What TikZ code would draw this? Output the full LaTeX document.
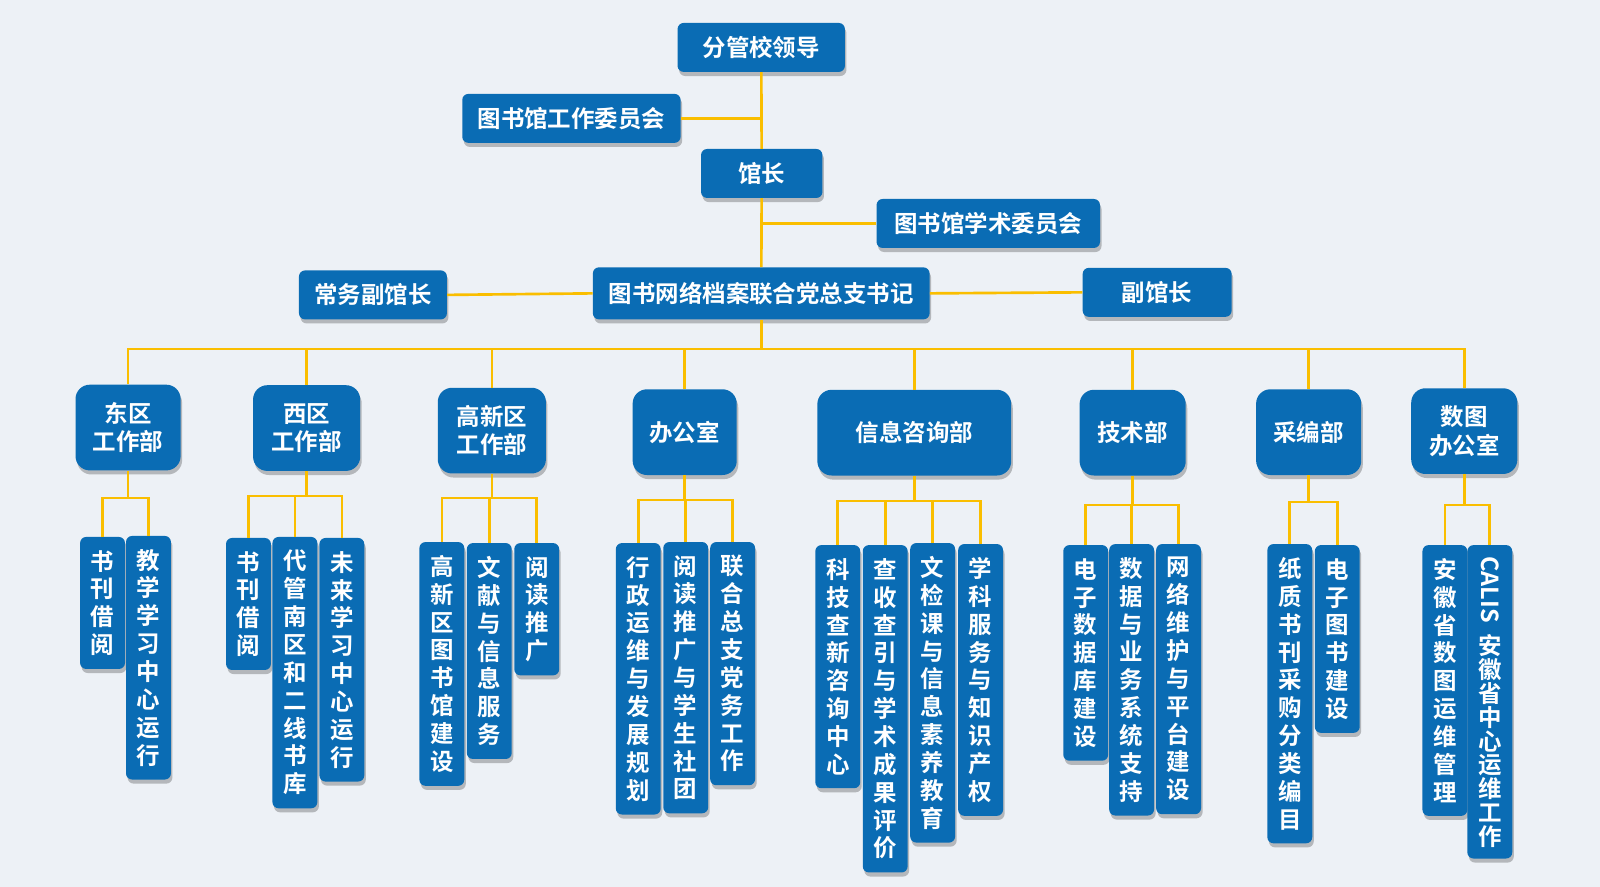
\documentclass[tikz,border=0pt]{standalone}
\usepackage{fontspec}
\setmainfont{Noto Sans CJK SC}[BoldFont={Noto Sans CJK SC Bold}]
\usepackage{xcolor}
\usetikzlibrary{shadows}
\definecolor{boxblue}{RGB}{10,108,180}
\definecolor{linkyellow}{RGB}{250,190,0}
\definecolor{pagebg}{RGB}{237,241,246}

\begin{document}
\begin{tikzpicture}[x=1pt,y=-1pt,
  boxshadow/.style={drop shadow={shadow xshift=1.5pt,shadow yshift=-4pt,fill=black,opacity=0.24}},
  topbox/.style={fill=boxblue,text=white,rounded corners=6pt,minimum height=48pt,inner sep=0pt,
    font=\fontsize{23}{28}\selectfont\bfseries,boxshadow},
  deptbox/.style={fill=boxblue,text=white,rounded corners=14pt,minimum height=84pt,inner sep=0pt,
    align=center,font=\fontsize{23}{28}\selectfont\bfseries,boxshadow},
  subbox/.style={fill=boxblue,text=white,rounded corners=6pt,minimum width=44pt,inner xsep=0pt,
    inner ysep=13pt,anchor=north,align=center,font=\fontsize{23}{27.3}\selectfont\bfseries,boxshadow},
  link/.style={draw=linkyellow,line width=2.6pt}]
  \useasboundingbox (0,0) rectangle (1568,869);
  \fill[pagebg] (0,0) rectangle (1568,869);

  \node[topbox,minimum width=164pt] (lead) at (746,46.5) {分管校领导};
  \node[topbox,minimum width=214pt] (wcom) at (560,116) {图书馆工作委员会};
  \node[topbox,minimum width=119pt] (dean) at (746.5,170) {馆长};
  \node[topbox,minimum width=219pt] (acom) at (968.5,219) {图书馆学术委员会};
  \node[topbox,minimum width=330pt,minimum height=51pt] (secr) at (746,287.5) {图书网络档案联合党总支书记};
  \node[topbox,minimum width=145pt] (vp1) at (365.5,289) {常务副馆长};
  \node[topbox,minimum width=146pt] (vp2) at (1134,286.5) {副馆长};

  \node[deptbox,minimum width=103pt] (d1) at (125.5,419) {东区\\工作部};
  \node[deptbox,minimum width=105pt] (d2) at (300.5,419.5) {西区\\工作部};
  \node[deptbox,minimum width=106pt] (d3) at (482,422) {高新区\\工作部};
  \node[deptbox,minimum width=102pt] (d4) at (671,423.5) {办公室};
  \node[deptbox,minimum width=190pt] (d5) at (896,424) {信息咨询部};
  \node[deptbox,minimum width=104pt] (d6) at (1110,424) {技术部};
  \node[deptbox,minimum width=103pt] (d7) at (1282.5,423.5) {采编部};
  \node[deptbox,minimum width=104pt] (d8) at (1435,422.5) {数图\\办公室};

  \node[subbox] (e11) at (100.5,526) {书\\刊\\借\\阅};
  \node[subbox] (e12) at (145.5,525) {教\\学\\学\\习\\中\\心\\运\\行};
  \node[subbox] (e21) at (243.5,527) {书\\刊\\借\\阅};
  \node[subbox] (e22) at (289,526) {代\\管\\南\\区\\和\\二\\线\\书\\库};
  \node[subbox] (e23) at (335,527) {未\\来\\学\\习\\中\\心\\运\\行};
  \node[subbox] (e31) at (433,531) {高\\新\\区\\图\\书\\馆\\建\\设};
  \node[subbox] (e32) at (479.5,532) {文\\献\\与\\信\\息\\服\\务};
  \node[subbox] (e33) at (526,532) {阅\\读\\推\\广};
  \node[subbox] (e41) at (625.5,532) {行\\政\\运\\维\\与\\发\\展\\规\\划};
  \node[subbox] (e42) at (672,531) {阅\\读\\推\\广\\与\\学\\生\\社\\团};
  \node[subbox] (e43) at (718,531) {联\\合\\总\\支\\党\\务\\工\\作};
  \node[subbox] (e51) at (821,534) {科\\技\\查\\新\\咨\\询\\中\\心};
  \node[subbox] (e52) at (867.5,534) {查\\收\\查\\引\\与\\学\\术\\成\\果\\评\\价};
  \node[subbox] (e53) at (914,532) {文\\检\\课\\与\\信\\息\\素\\养\\教\\育};
  \node[subbox] (e54) at (961,533) {学\\科\\服\\务\\与\\知\\识\\产\\权};
  \node[subbox] (e61) at (1064,534) {电\\子\\数\\据\\库\\建\\设};
  \node[subbox] (e62) at (1109,533) {数\\据\\与\\业\\务\\系\\统\\支\\持};
  \node[subbox] (e63) at (1155,533) {网\\络\\维\\护\\与\\平\\台\\建\\设};
  \node[subbox] (e71) at (1264,533) {纸\\质\\书\\刊\\采\\购\\分\\类\\编\\目};
  \node[subbox] (e72) at (1310.5,534) {电\\子\\图\\书\\建\\设};
  \node[subbox] (e81) at (1416,534) {安\\徽\\省\\数\\图\\运\\维\\管\\理};
  \node[subbox,inner ysep=11pt,font=\fontsize{23}{23.3}\selectfont\bfseries] (e82) at (1460,534)
    {\rotatebox{-90}{CALIS}\\[11pt]安\\徽\\省\\中\\心\\运\\维\\工\\作};

  \coordinate (bus) at (746,342);
  \draw[link] (lead) -- (dean);
  \draw[link] (dean) -- (secr);
  \draw[link] (secr.south) -- (bus);
  \draw[link] (wcom.east) -- (wcom.east -| lead.south);
  \draw[link] (acom.west) -- (acom.west -| dean.south);
  \draw[link] (vp1.east) -- (secr.west);
  \draw[link] (secr.east) -- (vp2.west);
  \draw[link] (d1.north) -- (d1.north |- bus) -- (d8.north |- bus) -- (d8.north);
  \draw[link] (d2.north) -- (d2.north |- bus);
  \draw[link] (d3.north) -- (d3.north |- bus);
  \draw[link] (d4.north) -- (d4.north |- bus);
  \draw[link] (d5.north) -- (d5.north |- bus);
  \draw[link] (d6.north) -- (d6.north |- bus);
  \draw[link] (d7.north) -- (d7.north |- bus);

  \coordinate (b1) at (0,488);
  \draw[link] (d1.south) -- (d1.south |- b1);
  \draw[link] (e11.north) |- (e12.north |- b1) -- (e12.north);
  \coordinate (b2) at (0,486);
  \draw[link] (d2.south) -- (d2.south |- b2);
  \draw[link] (e21.north) |- (e23.north |- b2) -- (e23.north);
  \draw[link] (e22.north) -- (e22.north |- b2);
  \coordinate (b3) at (0,488);
  \draw[link] (d3.south) -- (d3.south |- b3);
  \draw[link] (e31.north) |- (e33.north |- b3) -- (e33.north);
  \draw[link] (e32.north) -- (e32.north |- b3);
  \coordinate (b4) at (0,490);
  \draw[link] (d4.south) -- (d4.south |- b4);
  \draw[link] (e41.north) |- (e43.north |- b4) -- (e43.north);
  \draw[link] (e42.north) -- (e42.north |- b4);
  \coordinate (b5) at (0,491);
  \draw[link] (d5.south) -- (d5.south |- b5);
  \draw[link] (e51.north) |- (e54.north |- b5) -- (e54.north);
  \draw[link] (e52.north) -- (e52.north |- b5);
  \draw[link] (e53.north) -- (e53.north |- b5);
  \coordinate (b6) at (0,495);
  \draw[link] (d6.south) -- (d6.south |- b6);
  \draw[link] (e61.north) |- (e63.north |- b6) -- (e63.north);
  \draw[link] (e62.north) -- (e62.north |- b6);
  \coordinate (b7) at (0,492);
  \draw[link] (d7.south) -- (d7.south |- b7);
  \draw[link] (e71.north) |- (e72.north |- b7) -- (e72.north);
  \coordinate (b8) at (0,495);
  \draw[link] (d8.south) -- (d8.south |- b8);
  \draw[link] (e81.north) |- (e82.north |- b8) -- (e82.north);
\end{tikzpicture}
\end{document}
